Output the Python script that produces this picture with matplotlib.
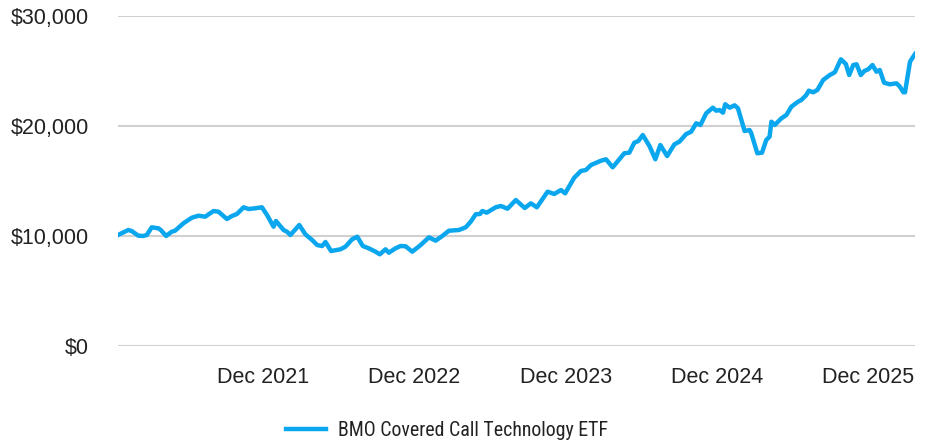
import matplotlib
matplotlib.use("Agg")
import matplotlib.pyplot as plt

# time in decimal years, growth of $10,000
years = [
    2021.000, 2021.068, 2021.090, 2021.134, 2021.167, 2021.190, 2021.223, 2021.267,
    2021.283, 2021.318, 2021.355, 2021.377, 2021.432, 2021.488, 2021.532, 2021.576,
    2021.631, 2021.664, 2021.720, 2021.753, 2021.786, 2021.830, 2021.863, 2021.907,
    2021.951, 2021.985, 2022.028, 2022.044, 2022.094, 2022.117, 2022.139, 2022.198,
    2022.238, 2022.283, 2022.316, 2022.349, 2022.371, 2022.408, 2022.470, 2022.503,
    2022.547, 2022.581, 2022.618, 2022.657, 2022.702, 2022.730, 2022.768, 2022.790,
    2022.834, 2022.867, 2022.900, 2022.945, 2023.000, 2023.055, 2023.099, 2023.143,
    2023.187, 2023.253, 2023.298, 2023.331, 2023.364, 2023.392, 2023.408, 2023.437,
    2023.496, 2023.530, 2023.574, 2023.629, 2023.688, 2023.728, 2023.768, 2023.839,
    2023.883, 2023.927, 2023.955, 2024.015, 2024.059, 2024.092, 2024.126, 2024.192,
    2024.225, 2024.269, 2024.313, 2024.346, 2024.379, 2024.412, 2024.439, 2024.468,
    2024.512, 2024.551, 2024.584, 2024.629, 2024.677, 2024.710, 2024.755, 2024.788,
    2024.821, 2024.849, 2024.887, 2024.931, 2024.953, 2024.975, 2024.998, 2025.013,
    2025.042, 2025.075, 2025.097, 2025.141, 2025.174, 2025.185, 2025.225, 2025.256,
    2025.284, 2025.306, 2025.318, 2025.340, 2025.384, 2025.417, 2025.450, 2025.494,
    2025.516, 2025.549, 2025.565, 2025.594, 2025.622, 2025.660, 2025.704, 2025.737,
    2025.777, 2025.810, 2025.832, 2025.859, 2025.881, 2025.909, 2025.932, 2025.958,
    2025.986, 2026.012, 2026.034, 2026.063, 2026.100, 2026.145, 2026.167, 2026.190,
    2026.201, 2026.234, 2026.267,
]
values = [
    10090, 10545, 10455, 10030, 10000, 10090, 10790, 10700,
    10545, 10000, 10390, 10480, 11150, 11665, 11845, 11755,
    12270, 12210, 11545, 11820, 12000, 12610, 12455, 12520,
    12610, 11910, 10845, 11365, 10545, 10390, 10090, 11000,
    10155, 9635, 9180, 9090, 9455, 8635, 8790, 9030,
    9700, 9935, 9090, 8880, 8575, 8335, 8790, 8480,
    8880, 9090, 9065, 8575, 9180, 9880, 9575, 10000,
    10480, 10545, 10790, 11300, 11975, 12000, 12275, 12120,
    12610, 12730, 12480, 13270, 12545, 12970, 12610, 14030,
    13820, 14180, 13880, 15300, 15910, 16000, 16455, 16845,
    16975, 16245, 16975, 17520, 17575, 18480, 18635, 19180,
    18180, 16975, 18270, 17270, 18335, 18575, 19270, 19480,
    20245, 20090, 21155, 21665, 21390, 21455, 21210, 21975,
    21665, 21880, 21610, 19545, 19635, 19335, 17520, 17575,
    18730, 19030, 20390, 20090, 20700, 21000, 21755, 22210,
    22365, 22820, 23210, 23065, 23275, 24180, 24635, 24880,
    26065, 25635, 24635, 25545, 25610, 24635, 25000, 25155,
    25545, 24935, 25090, 23935, 23790, 23880, 23575, 23065,
    23065, 25845, 26545,
]
series_name = "BMO Covered Call Technology ETF"
tick_years = [2021.96, 2022.96, 2023.96, 2024.96, 2025.96]
tick_labels = ["Dec 2021", "Dec 2022", "Dec 2023", "Dec 2024", "Dec 2025"]
y_ticks = [0, 10000, 20000, 30000]
y_labels = [f"${v:,}" for v in y_ticks]

plt.rcParams["font.family"] = ["Liberation Sans", "DejaVu Sans"]
NARROW = ["Roboto Condensed", "DejaVu Sans"]
TEXT = "#222222"

fig = plt.figure(figsize=(9.25, 4.42), dpi=100)
ax = fig.add_axes([118 / 925, 96 / 442, 797 / 925, 330 / 442])

ax.plot(years, values, color="#0BA7EE", lw=3.2, label=series_name,
        solid_joinstyle="round", zorder=3)

ax.set_xlim(years[0], years[-1])
ax.set_ylim(0, 30000)
ax.set_yticks(y_ticks)
ax.set_yticklabels(y_labels, fontsize=15.5, color=TEXT)
ax.set_xticks(tick_years)
ax.set_xticklabels(tick_labels, fontsize=15.5, color=TEXT)
ax.grid(axis="y", color="#D0D0D0", lw=1.5)
ax.set_axisbelow(True)
for s in ax.spines.values():
    s.set_visible(False)
ax.tick_params(axis="both", length=0)
ax.tick_params(axis="y", pad=21)
ax.tick_params(axis="x", pad=15)

fig.legend(loc="center", bbox_to_anchor=(0.483, 0.025), frameon=False,
           handlelength=2.0, handletextpad=0.6,
           prop={"family": NARROW, "size": 14.3}, labelcolor=TEXT)

fig.savefig("out.png", dpi=100)
